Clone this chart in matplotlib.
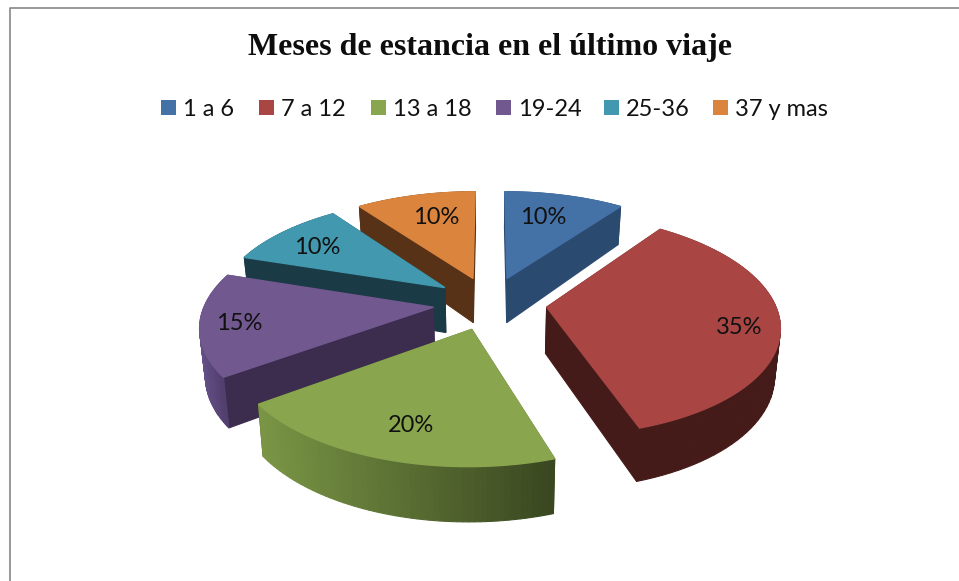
import matplotlib
matplotlib.use('Agg')
import matplotlib.pyplot as plt
from matplotlib.patches import Polygon, Rectangle
import numpy as np

categories = ['1 a 6', '7 a 12', '13 a 18', '19-24', '25-36', '37 y mas']
values = [10, 35, 20, 15, 10, 10]
top_colors = ['#4472a7', '#a94644', '#89a54e', '#71588f', '#4198af', '#db843d']
wall_colors = ['#2b4a70', '#451b19', '#3f4c22', '#3c2d4f', '#1a3a46', '#573216']
# outer rim colours, left and right end of the arc
rim_colors = [('#2b4a70', '#2b4a70'), ('#451b19', '#451b19'), ('#7a9645', '#394620'),
              ('#66508a', '#4d3b66'), ('#1a3a46', '#1a3a46'), ('#573216', '#573216')]

legend_x = [161, 259, 371, 496, 604, 713]
label_xy = [(543, 218), (739, 327), (411, 425), (239, 324), (317, 248), (436, 218)]

# projection of the tilted disc onto the page, in pixels
CX, CY = 490, 303
RX, RY = 228, 107
PERSP = 0.154
EXPLODE = 0.25
DEPTH, DEPTH_TILT = 46, 7.5
BOTTOM_SHRINK = 0.98


def project(wx, wy, down=False):
    wx, wy = np.asarray(wx, float), np.asarray(wy, float)
    s = 1 / (1 + PERSP * wy)
    px = CX + RX * wx * s
    py = CY - RY * wy * s
    if down:
        # the underside is a little further from the eye
        px = CX + (px - CX) * BOTTOM_SHRINK
        py = py + DEPTH - DEPTH_TILT * wy
    return px, py


def blend(c1, c2, t):
    a = np.array(matplotlib.colors.to_rgb(c1))
    b = np.array(matplotlib.colors.to_rgb(c2))
    return tuple(a + (b - a) * t)


def draw_slice(ax, start, end, top, wall, rim):
    mid = np.radians((start + end) / 2)
    ox, oy = EXPLODE * np.sin(mid), EXPLODE * np.cos(mid)
    th = np.radians(np.linspace(start, end, 61))
    wx, wy = ox + np.sin(th), oy + np.cos(th)

    pieces = []
    # flat cut faces
    for i in (0, -1):
        a = project([ox, wx[i]], [oy, wy[i]])
        b = project([ox, wx[i]], [oy, wy[i]], down=True)
        pts = np.array([[a[0][0], a[1][0]], [a[0][1], a[1][1]], [b[0][1], b[1][1]], [b[0][0], b[1][0]]])
        pieces.append(((oy + wy[i]) / 2, pts, wall))
    # curved rim
    tx, ty = project(wx, wy)
    bx, by = project(wx, wy, down=True)
    xmin, xmax = tx.min(), tx.max()
    for i in range(len(th) - 1):
        pts = np.array([[tx[i], ty[i]], [tx[i + 1], ty[i + 1]], [bx[i + 1], by[i + 1]], [bx[i], by[i]]])
        t = ((tx[i] + tx[i + 1]) / 2 - xmin) / (xmax - xmin)
        pieces.append(((wy[i] + wy[i + 1]) / 2, pts, blend(rim[0], rim[1], t)))

    # back pieces first
    for depth, pts, col in sorted(pieces, key=lambda p: -p[0]):
        ax.add_patch(Polygon(pts, closed=True, facecolor=col, edgecolor=col, linewidth=0.8))

    ax_, ay_ = project([ox], [oy])
    pts = np.column_stack([np.r_[ax_, tx], np.r_[ay_, ty]])
    ax.add_patch(Polygon(pts, closed=True, facecolor=top, edgecolor=top, linewidth=1.0))


fig = plt.figure(figsize=(9.59, 5.81), dpi=100)
ax = fig.add_axes([0, 0, 1, 1])
ax.set_xlim(0, 959)
ax.set_ylim(581, 0)
ax.axis('off')

# chart frame
ax.plot([10, 10, 959], [581, 7.5, 7.5], color='#868686', linewidth=1.2)

ax.text(490, 47, 'Meses de estancia en el último viaje', family='Liberation Serif',
        fontweight='bold', fontsize=23, ha='center', va='center', color='#0d0d0d')

for x, cat, col in zip(legend_x, categories, top_colors):
    ax.add_patch(Rectangle((x, 100), 15, 15, facecolor=col, edgecolor='none'))
    ax.text(x + 22, 109, cat, family='Lato', fontsize=17, ha='left', va='center', color='#111111')

edges = np.cumsum([0] + values) * 3.6
# painter's order: back slices first
for i in [5, 0, 4, 3, 1, 2]:
    draw_slice(ax, edges[i], edges[i + 1], top_colors[i], wall_colors[i], rim_colors[i])

for (x, y), v in zip(label_xy, values):
    ax.text(x, y, '{}%'.format(v), family='Lato', fontsize=17, ha='center', va='center', color='#111111')

fig.savefig('out.png', dpi=100)
